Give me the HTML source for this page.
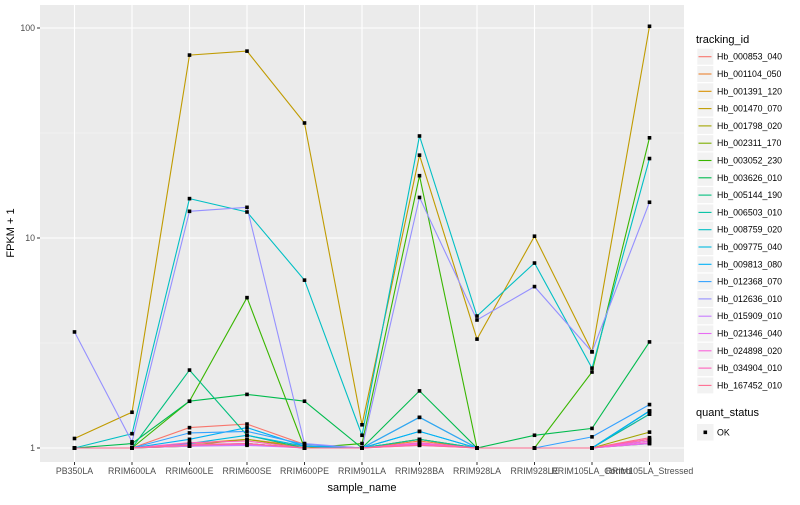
<!DOCTYPE html>
<html><head><meta charset="utf-8"><style>
html,body{margin:0;padding:0;background:#fff;}
svg text{font-family:"Liberation Sans",sans-serif;}
</style></head><body>
<svg id="chart" width="800" height="500" xmlns="http://www.w3.org/2000/svg"></svg>
<script>
const categories=["PB350LA","RRIM600LA","RRIM600LE","RRIM600SE","RRIM600PE","RRIM901LA","RRIM928BA","RRIM928LA","RRIM928LE","RRIM105LA_Control","RRIM105LA_Stressed"];
const seriesNames=["Hb_000853_040","Hb_001104_050","Hb_001391_120","Hb_001470_070","Hb_001798_020","Hb_002311_170","Hb_003052_230","Hb_003626_010","Hb_005144_190","Hb_006503_010","Hb_008759_020","Hb_009775_040","Hb_009813_080","Hb_012368_070","Hb_012636_010","Hb_015909_010","Hb_021346_040","Hb_024898_020","Hb_034904_010","Hb_167452_010"];
const seriesColors=["#F8766D","#EA8331","#D89000","#C09B00","#A3A500","#7CAE00","#39B600","#00BB4E","#00BF7D","#00C1A3","#00BFC4","#00BAE0","#00B0F6","#35A2FF","#9590FF","#C77CFF","#E76BF3","#FA62DB","#FF62BC","#FF6C91"];
const s0=[1,1,1.25,1.3,1.04,1,1.05,1,1,1,1.45];
const s1=[1,1,1.05,1.1,1.02,1,1.08,1,1,1,1.1];
const s2=[1,1,1.02,1.05,1,1,1.1,1,1,1,1.08];
const s3=[1.11,1.48,74.3,77.6,35.3,1.29,24.8,3.3,10.2,2.87,101.9];
const s4=[1,1,1.03,1.1,1,1,1.1,1,1,1,1.19];
const s5=[1,1,1.02,1.05,1,1,1.05,1,1,1,1.05];
const s6=[1,1,1.67,5.2,1,1.05,19.8,1,1,2.3,30.0];
const s7=[1,1.05,1.67,1.8,1.67,1,1.87,1,1.15,1.24,3.2];
const s8=[1,1,2.35,1.15,1,1,1.4,1,1,1,1.5];
const s9=[1,1,1.03,1.05,1,1,1.1,1,1,1,1.45];
const s10=[1,1.17,15.4,13.3,6.3,1.15,30.6,4.25,7.6,2.4,23.9];
const s11=[1,1,1.05,1.15,1.02,1,1.2,1,1,1,1.5];
const s12=[1,1,1.1,1.25,1.02,1,1.2,1,1,1,1.5];
const s13=[1,1,1.18,1.2,1.04,1,1.4,1,1,1.13,1.61];
const s14=[3.57,1.07,13.4,14.0,1.05,1,15.6,4.07,5.87,2.87,14.8];
const s15=[1,1,1.02,1.03,1,1,1.03,1,1,1,1.05];
const s16=[1,1,1.03,1.04,1,1,1.05,1,1,1,1.08];
const s17=[1,1,1.04,1.05,1,1,1.04,1,1,1,1.06];
const s18=[1,1,1.06,1.08,1,1,1.06,1,1,1,1.1];
const s19=[1,1,1.03,1.05,1,1,1.03,1,1,1,1.12];
const seriesValues=[s0,s1,s2,s3,s4,s5,s6,s7,s8,s9,s10,s11,s12,s13,s14,s15,s16,s17,s18,s19];
const yTicks=[1,10,100];
const yTickLabels=["1","10","100"];
const yMinor=[Math.sqrt(10),Math.sqrt(1000)];

const NS="http://www.w3.org/2000/svg";
const svg=document.getElementById("chart");
const P={l:40,r:684,t:5,b:462};
function xs(i){return 74.5+57.5*i;}
function ys(v){return 448-210*Math.log10(v);}
function mk(tag,attrs,parent){const e=document.createElementNS(NS,tag);for(const k in attrs)e.setAttribute(k,attrs[k]);(parent||svg).appendChild(e);return e;}

const panel=mk("rect",{x:P.l,y:P.t,width:P.r-P.l,height:P.b-P.t,fill:"#ebebeb"});


yMinor.forEach(v=>{const g=mk("line",{x1:P.l,x2:P.r,y1:ys(v),y2:ys(v),stroke:"#f5f5f5","stroke-width":0.6});

});
yTicks.forEach((v,i)=>{const g=mk("line",{x1:P.l,x2:P.r,y1:ys(v),y2:ys(v),stroke:"#fff","stroke-width":1.1});


const t=mk("line",{x1:P.l-3,x2:P.l,y1:ys(v),y2:ys(v),stroke:"#333","stroke-width":1});


const lb=mk("text",{x:P.l-5,y:ys(v)+3,"text-anchor":"end","font-size":"8.8",fill:"#4d4d4d"});lb.textContent=yTickLabels[i];

});
categories.forEach((c,i)=>{const g=mk("line",{x1:xs(i),x2:xs(i),y1:P.t,y2:P.b,stroke:"#fff","stroke-width":1.1});


const t=mk("line",{x1:xs(i),x2:xs(i),y1:P.b,y2:P.b+3,stroke:"#333","stroke-width":1});


const lb=mk("text",{x:xs(i),y:P.b+12,"text-anchor":"middle","font-size":"8.8",fill:"#4d4d4d"});lb.textContent=c;

});

seriesValues.forEach((vals,si)=>{const pts=vals.map((v,i)=>xs(i).toFixed(1)+","+ys(v).toFixed(1)).join(" ");
const pl=mk("polyline",{points:pts,fill:"none",stroke:seriesColors[si],"stroke-width":1.1});

});
seriesValues.forEach((vals,si)=>{vals.forEach((v,i)=>{const p=mk("rect",{x:xs(i)-1.8,y:ys(v)-1.8,width:3.6,height:3.6,fill:"#000"});

});});

const yt=mk("text",{x:14,y:233,"text-anchor":"middle","font-size":"11",fill:"#000",transform:"rotate(-90 14 233)"});yt.textContent="FPKM + 1";


const xt=mk("text",{x:362,y:491,"text-anchor":"middle","font-size":"11",fill:"#000"});xt.textContent="sample_name";



const lt=mk("text",{x:696,y:43,"font-size":"11",fill:"#000"});lt.textContent="tracking_id";


seriesNames.forEach((n,i)=>{const cy=56.7+17.3*i;
const b=mk("rect",{x:697,y:cy-8.3,width:16.6,height:16.6,fill:"#f2f2f2",stroke:"#fff","stroke-width":0.6});


const l=mk("line",{x1:698.5,x2:711.5,y1:cy,y2:cy,stroke:seriesColors[i],"stroke-width":1.1});


const t=mk("text",{x:717,y:cy+3,"font-size":"8.8",fill:"#000"});t.textContent=n;

});
const qt=mk("text",{x:696,y:416,"font-size":"11",fill:"#000"});qt.textContent="quant_status";


const qb=mk("rect",{x:697,y:424,width:16.6,height:16.6,fill:"#f2f2f2"});


const qp=mk("rect",{x:703.5,y:430.5,width:3.6,height:3.6,fill:"#000"});


const qtx=mk("text",{x:717,y:435.5,"font-size":"8.8",fill:"#000"});qtx.textContent="OK";


</script>
</body></html>
